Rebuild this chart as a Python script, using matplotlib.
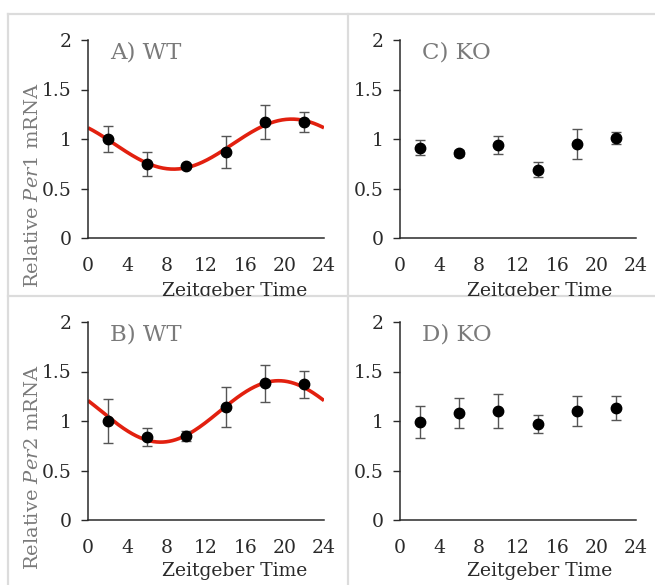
import numpy as np
import matplotlib

matplotlib.use("Agg")
import matplotlib.pyplot as plt
from matplotlib.lines import Line2D
from matplotlib.transforms import Bbox, TransformedBbox

plt.rcParams["font.family"] = ["DejaVu Serif"]
plt.rcParams["mathtext.fontset"] = "dejavuserif"

# Zeitgeber time of sampling (h)
zt = [2, 6, 10, 14, 18, 22]

per1_wt = [1.00, 0.75, 0.73, 0.87, 1.17, 1.17]
per1_wt_err = [0.13, 0.12, 0.02, 0.16, 0.17, 0.10]
per1_ko = [0.91, 0.86, 0.94, 0.69, 0.95, 1.01]
per1_ko_err = [0.075, 0.03, 0.09, 0.075, 0.15, 0.065]

per2_wt = [1.00, 0.84, 0.85, 1.14, 1.38, 1.37]
per2_wt_err = [0.22, 0.09, 0.05, 0.20, 0.19, 0.135]
per2_ko = [0.99, 1.08, 1.10, 0.97, 1.10, 1.13]
per2_ko_err = [0.165, 0.15, 0.175, 0.09, 0.15, 0.12]

W, H = 655, 585
RED = "#e2200f"
GRAY = "#7a7a7a"
DARK = "#2a2a2a"
BORDER = "#dcdcdc"


def cosinor_curve(t, y, period=24.0):
    # least-squares cosinor fit of the sampled means
    t = np.asarray(t, float)
    w = 2 * np.pi / period
    A = np.column_stack([np.ones_like(t), np.cos(w * t), np.sin(w * t)])
    coef, *_ = np.linalg.lstsq(A, np.asarray(y, float), rcond=None)
    tt = np.linspace(0, period, 300)
    return tt, coef[0] + coef[1] * np.cos(w * tt) + coef[2] * np.sin(w * tt)


def px_rect(left, top, right, bottom):
    return [left / W, 1 - bottom / H, (right - left) / W, (bottom - top) / H]


fig = plt.figure(figsize=(W / 100, H / 100), dpi=100)

panels = [
    ("A) WT", per1_wt, per1_wt_err, True, 88, 40),
    ("C) KO", per1_ko, per1_ko_err, False, 400, 40),
    ("B) WT", per2_wt, per2_wt_err, True, 88, 322),
    ("D) KO", per2_ko, per2_ko_err, False, 400, 322),
]

for title, means, errs, fit, left, top in panels:
    ax = fig.add_axes(px_rect(left, top, left + 236, top + 198))
    if fit:
        tt, yy = cosinor_curve(zt, means)
        ax.plot(tt, yy, color=RED, lw=2.6, zorder=2, solid_capstyle="butt")
    ax.errorbar(zt, means, yerr=errs, fmt="o", color="black", ms=7.5,
                ecolor="#555555", elinewidth=1.0, capsize=3.5, capthick=1.0, zorder=3)
    ax.set_xlim(0, 24)
    ax.set_ylim(0, 2)
    ax.set_xticks(range(0, 25, 4))
    ax.set_yticks([0, 0.5, 1, 1.5, 2])
    ax.set_yticklabels(["0", "0.5", "1", "1.5", "2"])
    for s in ("top", "right"):
        ax.spines[s].set_visible(False)
    for s in ("left", "bottom"):
        ax.spines[s].set_linewidth(1.1)
        ax.spines[s].set_color(DARK)
    ax.tick_params(axis="x", length=0, pad=14, labelsize=13.5, labelcolor=DARK)
    ax.tick_params(axis="y", length=5, width=1.0, color=DARK, direction="out",
                   pad=7, labelsize=13.5, labelcolor=DARK)
    fig.text((left + 22) / W, 1 - (top + 2) / H, title, fontsize=16.5, color=GRAY,
             va="top", ha="left")

# x labels (top row clipped by the cell border)
cells_top = TransformedBbox(Bbox.from_extents(0, 1 - 296 / H, 1, 1), fig.transFigure)
for cx in (235, 540):
    t = fig.text(cx / W, 1 - 291 / H, "Zeitgeber Time", fontsize=13.5, color=DARK,
                 ha="center", va="center")
    t.set_clip_box(cells_top)
    t.set_clip_on(True)
    fig.text(cx / W, 1 - 571 / H, "Zeitgeber Time", fontsize=13.5, color=DARK,
             ha="center", va="center")

# y labels
fig.text(33 / W, 1 - 185 / H, r"Relative $\it{Per1}$ mRNA", fontsize=14, color=GRAY,
         rotation=90, ha="center", va="center")
fig.text(33 / W, 1 - 467 / H, r"Relative $\it{Per2}$ mRNA", fontsize=14, color=GRAY,
         rotation=90, ha="center", va="center")

# light cell borders
for (x0, y0, x1, y1) in [(8, 14, 655, 14), (8, 296, 655, 296),
                         (8, 14, 8, 585), (348, 14, 348, 585)]:
    fig.add_artist(Line2D([x0 / W, x1 / W], [1 - y0 / H, 1 - y1 / H],
                          transform=fig.transFigure, color=BORDER, lw=1.6))

fig.savefig("out.png", dpi=100)
plt.close(fig)
